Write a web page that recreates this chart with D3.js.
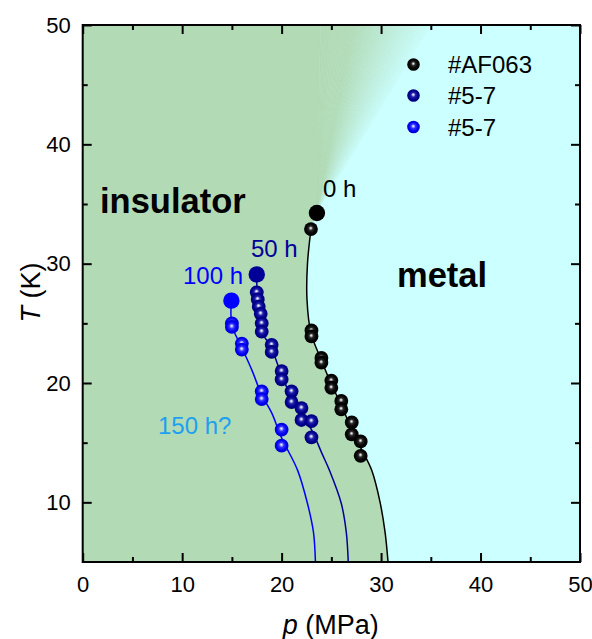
<!DOCTYPE html>
<html><head><meta charset="utf-8">
<script src="https://cdn.jsdelivr.net/npm/d3@7"></script>
<style>
body{margin:0;background:#fff}
text{font-family:"Liberation Sans",Arial,Helvetica,sans-serif}
</style>
</head><body>
<svg id="chart" width="592" height="639"></svg>
<script>
// ---------- data ----------
const xTicks = [0, 10, 20, 30, 40, 50];
const xMinorTicks = [5, 15, 25, 35, 45];
const yTicks = [10, 20, 30, 40, 50];
const yMinorTicks = [15, 25, 35, 45];

// sample #AF063 (0 h)
const af063P = [22.95, 23.0, 23.0, 24.0, 24.0, 25.0, 25.0, 26.0, 26.0, 27.05, 27.05, 27.95, 27.95];
const af063T = [32.9, 24.4, 23.9, 22.1, 21.7, 20.2, 19.6, 18.5, 17.8, 16.7, 15.7, 15.1, 13.9];
// sample #5-7 after 50 h
const s50P = [17.5, 17.6, 17.7, 17.9, 18.0, 18.0, 19.0, 19.0, 20.0, 20.0, 21.0, 21.0, 22.0, 22.0, 23.0, 23.0];
const s50T = [27.6, 27.0, 26.4, 25.8, 25.0, 24.3, 23.2, 22.6, 21.0, 20.3, 19.3, 18.4, 17.9, 16.9, 16.8, 15.45];
// sample #5-7 after 100 h
const s100P = [15.0, 15.0, 16.0, 16.0, 18.0, 18.0, 20.0, 20.0];
const s100T = [25.0, 24.7, 23.3, 22.8, 19.3, 18.65, 16.1, 14.75];

// onset (large) points: 0 h, 50 h, 100 h
const onsetLabels = ["0 h", "50 h", "100 h"];
const onsetP = [23.55, 17.5, 14.95];
const onsetT = [34.25, 29.1, 26.9];

// guide lines (boundaries)
const line0P = [22.95, 22.6, 22.55, 22.95, 24.0, 25.0, 26.0, 27.0, 28.0, 29.05, 29.9, 30.4, 30.7];
const line0T = [32.9, 30.0, 27.0, 24.2, 21.9, 19.9, 18.15, 16.2, 14.5, 12.7, 10.0, 7.5, 5.0];
const line50P = [17.5, 17.55, 17.8, 18.0, 19.0, 20.0, 21.0, 22.0, 23.0, 24.05, 24.8, 26.0, 26.5, 26.7];
const line50T = [29.1, 27.3, 25.5, 24.3, 22.9, 20.6, 18.85, 17.4, 16.1, 14.1, 12.7, 9.9, 7.5, 5.0];
const line100P = [14.95, 15.0, 15.95, 17.0, 18.0, 19.0, 20.0, 21.6, 22.6, 23.2, 23.4];
const line100T = [26.9, 24.85, 23.05, 21.1, 19.0, 17.5, 15.4, 12.7, 9.9, 7.5, 5.0];

// fan (crossover) region top edge, in MPa at T = 50 K
const fanTopP = [23.9, 35.0];

const legendLabels = ["#AF063", "#5-7", "#5-7"];

// ---------- layout ----------
const svg = d3.select("#chart");
const L = 82.7, R = 580, TOP = 25, B = 562;
const x = d3.scaleLinear().domain([0, 50]).range([L, R]);
const y = d3.scaleLinear().domain([5, 50]).range([B, TOP]);

const GREEN = "#b2dab5", CYAN = "#ccffff";
const C_BLACK = "#000000", C_DARK = "#000099", C_BLUE = "#0000ff", C_LIGHT = "#1ea0f0";

const defs = svg.append("defs");
defs.append("clipPath").attr("id", "plotClip").append("rect")
  .attr("x", L).attr("y", TOP).attr("width", R - L).attr("height", B - TOP);

function sphereGrad(id, stops) {
  const g = defs.append("radialGradient").attr("id", id)
    .attr("cx", "50%").attr("cy", "50%").attr("r", "52%")
    .attr("fx", "48%").attr("fy", "42%");
  stops.forEach(s => g.append("stop").attr("offset", s[0]).attr("stop-color", s[1]));
}
sphereGrad("gBlack", [[0, "#ffffff"], [0.1, "#c8c8c8"], [0.3, "#2a2a2a"], [0.6, "#080808"], [1, "#000000"]]);
sphereGrad("gDark", [[0, "#ffffff"], [0.12, "#c4c4f0"], [0.35, "#2020a8"], [0.7, "#000090"], [1, "#000070"]]);
sphereGrad("gBlue", [[0, "#ffffff"], [0.12, "#c0c0ff"], [0.35, "#3030ff"], [0.7, "#0000f0"], [1, "#0000d0"]]);

const plot = svg.append("g").attr("clip-path", "url(#plotClip)");

// backgrounds
plot.append("rect").attr("x", L).attr("y", TOP).attr("width", R - L).attr("height", B - TOP).attr("fill", CYAN);

const curve = d3.curveCatmullRom.alpha(0.5);
const lineGen = d3.line().x(d => x(d[0])).y(d => y(d[1])).curve(curve);
const zip = (a, b) => a.map((v, i) => [v, b[i]]);

const boundary = [[onsetP[0], onsetT[0]]].concat(zip(line0P, line0T));
const greenPath = lineGen(boundary) +
  `L${x(0)},${y(5)}L${x(0)},${y(50)}L${x(fanTopP[0])},${y(50)}Z`;
plot.append("path").attr("d", greenPath).attr("fill", GREEN);

// fan-shaped gradient between insulator and metal above 0 h point
const N = 60;
const interp = d3.interpolateRgb(GREEN, CYAN);
for (let i = 0; i < N; i++) {
  const a = fanTopP[0] + (fanTopP[1] - fanTopP[0]) * i / N;
  const b = fanTopP[0] + (fanTopP[1] - fanTopP[0]) * (i + 1) / N;
  const t = (i + 0.5) / N;
  const k = t < 0.3 ? 0.05 * t / 0.3 : 0.05 + 0.88 * Math.pow((t - 0.3) / 0.7, 1.0);
  const col = interp(k);
  plot.append("path")
    .attr("d", `M${x(onsetP[0])},${y(onsetT[0])}L${x(a)},${y(50)}L${x(b)},${y(50)}Z`)
    .attr("fill", col).attr("stroke", col).attr("stroke-width", 0.6);
}

// guide lines
plot.append("path").attr("d", lineGen(zip(line0P, line0T))).attr("fill", "none").attr("stroke", C_BLACK).attr("stroke-width", 1.5);
plot.append("path").attr("d", lineGen(zip(line50P, line50T))).attr("fill", "none").attr("stroke", C_DARK).attr("stroke-width", 1.5);
plot.append("path").attr("d", lineGen(zip(line100P, line100T))).attr("fill", "none").attr("stroke", C_BLUE).attr("stroke-width", 1.5);

// spheres
function spheres(P, Tv, grad) {
  plot.append("g").selectAll("circle").data(zip(P, Tv)).join("circle")
    .attr("cx", d => x(d[0])).attr("cy", d => y(d[1])).attr("r", 6.9)
    .attr("fill", `url(#${grad})`);
}
spheres(s100P, s100T, "gBlue");
spheres(s50P, s50T, "gDark");
spheres(af063P, af063T, "gBlack");

// onset points
const onsetColors = [C_BLACK, C_DARK, C_BLUE];
plot.append("g").selectAll("circle").data(zip(onsetP, onsetT)).join("circle")
  .attr("cx", d => x(d[0])).attr("cy", d => y(d[1])).attr("r", 8.2)
  .attr("fill", (d, i) => onsetColors[i]);

// annotations
const ann = [
  {t: onsetLabels[0], x: 323, y: 196.5, c: C_BLACK},
  {t: onsetLabels[1], x: 251, y: 256.5, c: C_DARK},
  {t: onsetLabels[2], x: 183, y: 284, c: C_BLUE},
  {t: "150 h?", x: 158, y: 433.5, c: C_LIGHT}
];
svg.selectAll("text.ann").data(ann).join("text").attr("class", "ann")
  .attr("x", d => d.x).attr("y", d => d.y).attr("fill", d => d.c)
  .attr("font-size", 24).text(d => d.t);

svg.append("text").attr("x", 100).attr("y", 213).attr("font-size", 34.5).attr("font-weight", "bold").text("insulator");
svg.append("text").attr("x", 397).attr("y", 287).attr("font-size", 34.5).attr("font-weight", "bold").text("metal");

// legend
const legGrads = ["gBlack", "gDark", "gBlue"];
const legY = [64.5, 95.5, 127];
legendLabels.forEach((lab, i) => {
  svg.append("circle").attr("cx", 413.5).attr("cy", legY[i]).attr("r", 6.3).attr("fill", `url(#${legGrads[i]})`);
  svg.append("text").attr("x", 448).attr("y", legY[i] + 8.8).attr("font-size", 24).text(lab);
});

// axes
function styleAxis(g) {
  g.select(".domain").remove();
  g.selectAll(".tick line").attr("stroke", "#000").attr("stroke-width", 2);
  g.selectAll(".tick text").attr("font-size", 22).attr("fill", "#000")
    .attr("font-family", "'Liberation Sans',Arial,sans-serif");
}
svg.append("g").attr("transform", `translate(0,${B})`)
  .call(d3.axisBottom(x).tickValues(xTicks).tickSizeInner(-9).tickSizeOuter(0).tickPadding(14).tickFormat(d3.format("d")))
  .call(styleAxis);
svg.append("g").attr("transform", `translate(0,${B})`)
  .call(d3.axisBottom(x).tickValues(xMinorTicks).tickSizeInner(-5).tickSizeOuter(0).tickFormat(""))
  .call(styleAxis);
svg.append("g").attr("transform", `translate(0,${TOP})`)
  .call(d3.axisTop(x).tickValues(xTicks).tickSizeInner(-9).tickSizeOuter(0).tickFormat(""))
  .call(styleAxis);
svg.append("g").attr("transform", `translate(0,${TOP})`)
  .call(d3.axisTop(x).tickValues(xMinorTicks).tickSizeInner(-5).tickSizeOuter(0).tickFormat(""))
  .call(styleAxis);
svg.append("g").attr("transform", `translate(${L},0)`)
  .call(d3.axisLeft(y).tickValues(yTicks).tickSizeInner(-9).tickSizeOuter(0).tickPadding(12).tickFormat(d3.format("d")))
  .call(styleAxis);
svg.append("g").attr("transform", `translate(${L},0)`)
  .call(d3.axisLeft(y).tickValues(yMinorTicks).tickSizeInner(-5).tickSizeOuter(0).tickFormat(""))
  .call(styleAxis);
svg.append("g").attr("transform", `translate(${R},0)`)
  .call(d3.axisRight(y).tickValues(yTicks).tickSizeInner(-9).tickSizeOuter(0).tickFormat(""))
  .call(styleAxis);
svg.append("g").attr("transform", `translate(${R},0)`)
  .call(d3.axisRight(y).tickValues(yMinorTicks).tickSizeInner(-5).tickSizeOuter(0).tickFormat(""))
  .call(styleAxis);

svg.append("rect").attr("x", L).attr("y", TOP).attr("width", R - L).attr("height", B - TOP)
  .attr("fill", "none").attr("stroke", "#000").attr("stroke-width", 2);

// axis titles
const xt = svg.append("text").attr("x", (L + R) / 2 - 0.5).attr("y", 634).attr("text-anchor", "middle").attr("font-size", 27);
xt.append("tspan").attr("font-style", "italic").text("p");
xt.append("tspan").text(" (MPa)");
const yt = svg.append("text").attr("transform", "translate(39.5,292.5) rotate(-90)").attr("text-anchor", "middle").attr("font-size", 27);
yt.append("tspan").attr("font-style", "italic").text("T");
yt.append("tspan").text(" (K)");
</script>
</body></html>
